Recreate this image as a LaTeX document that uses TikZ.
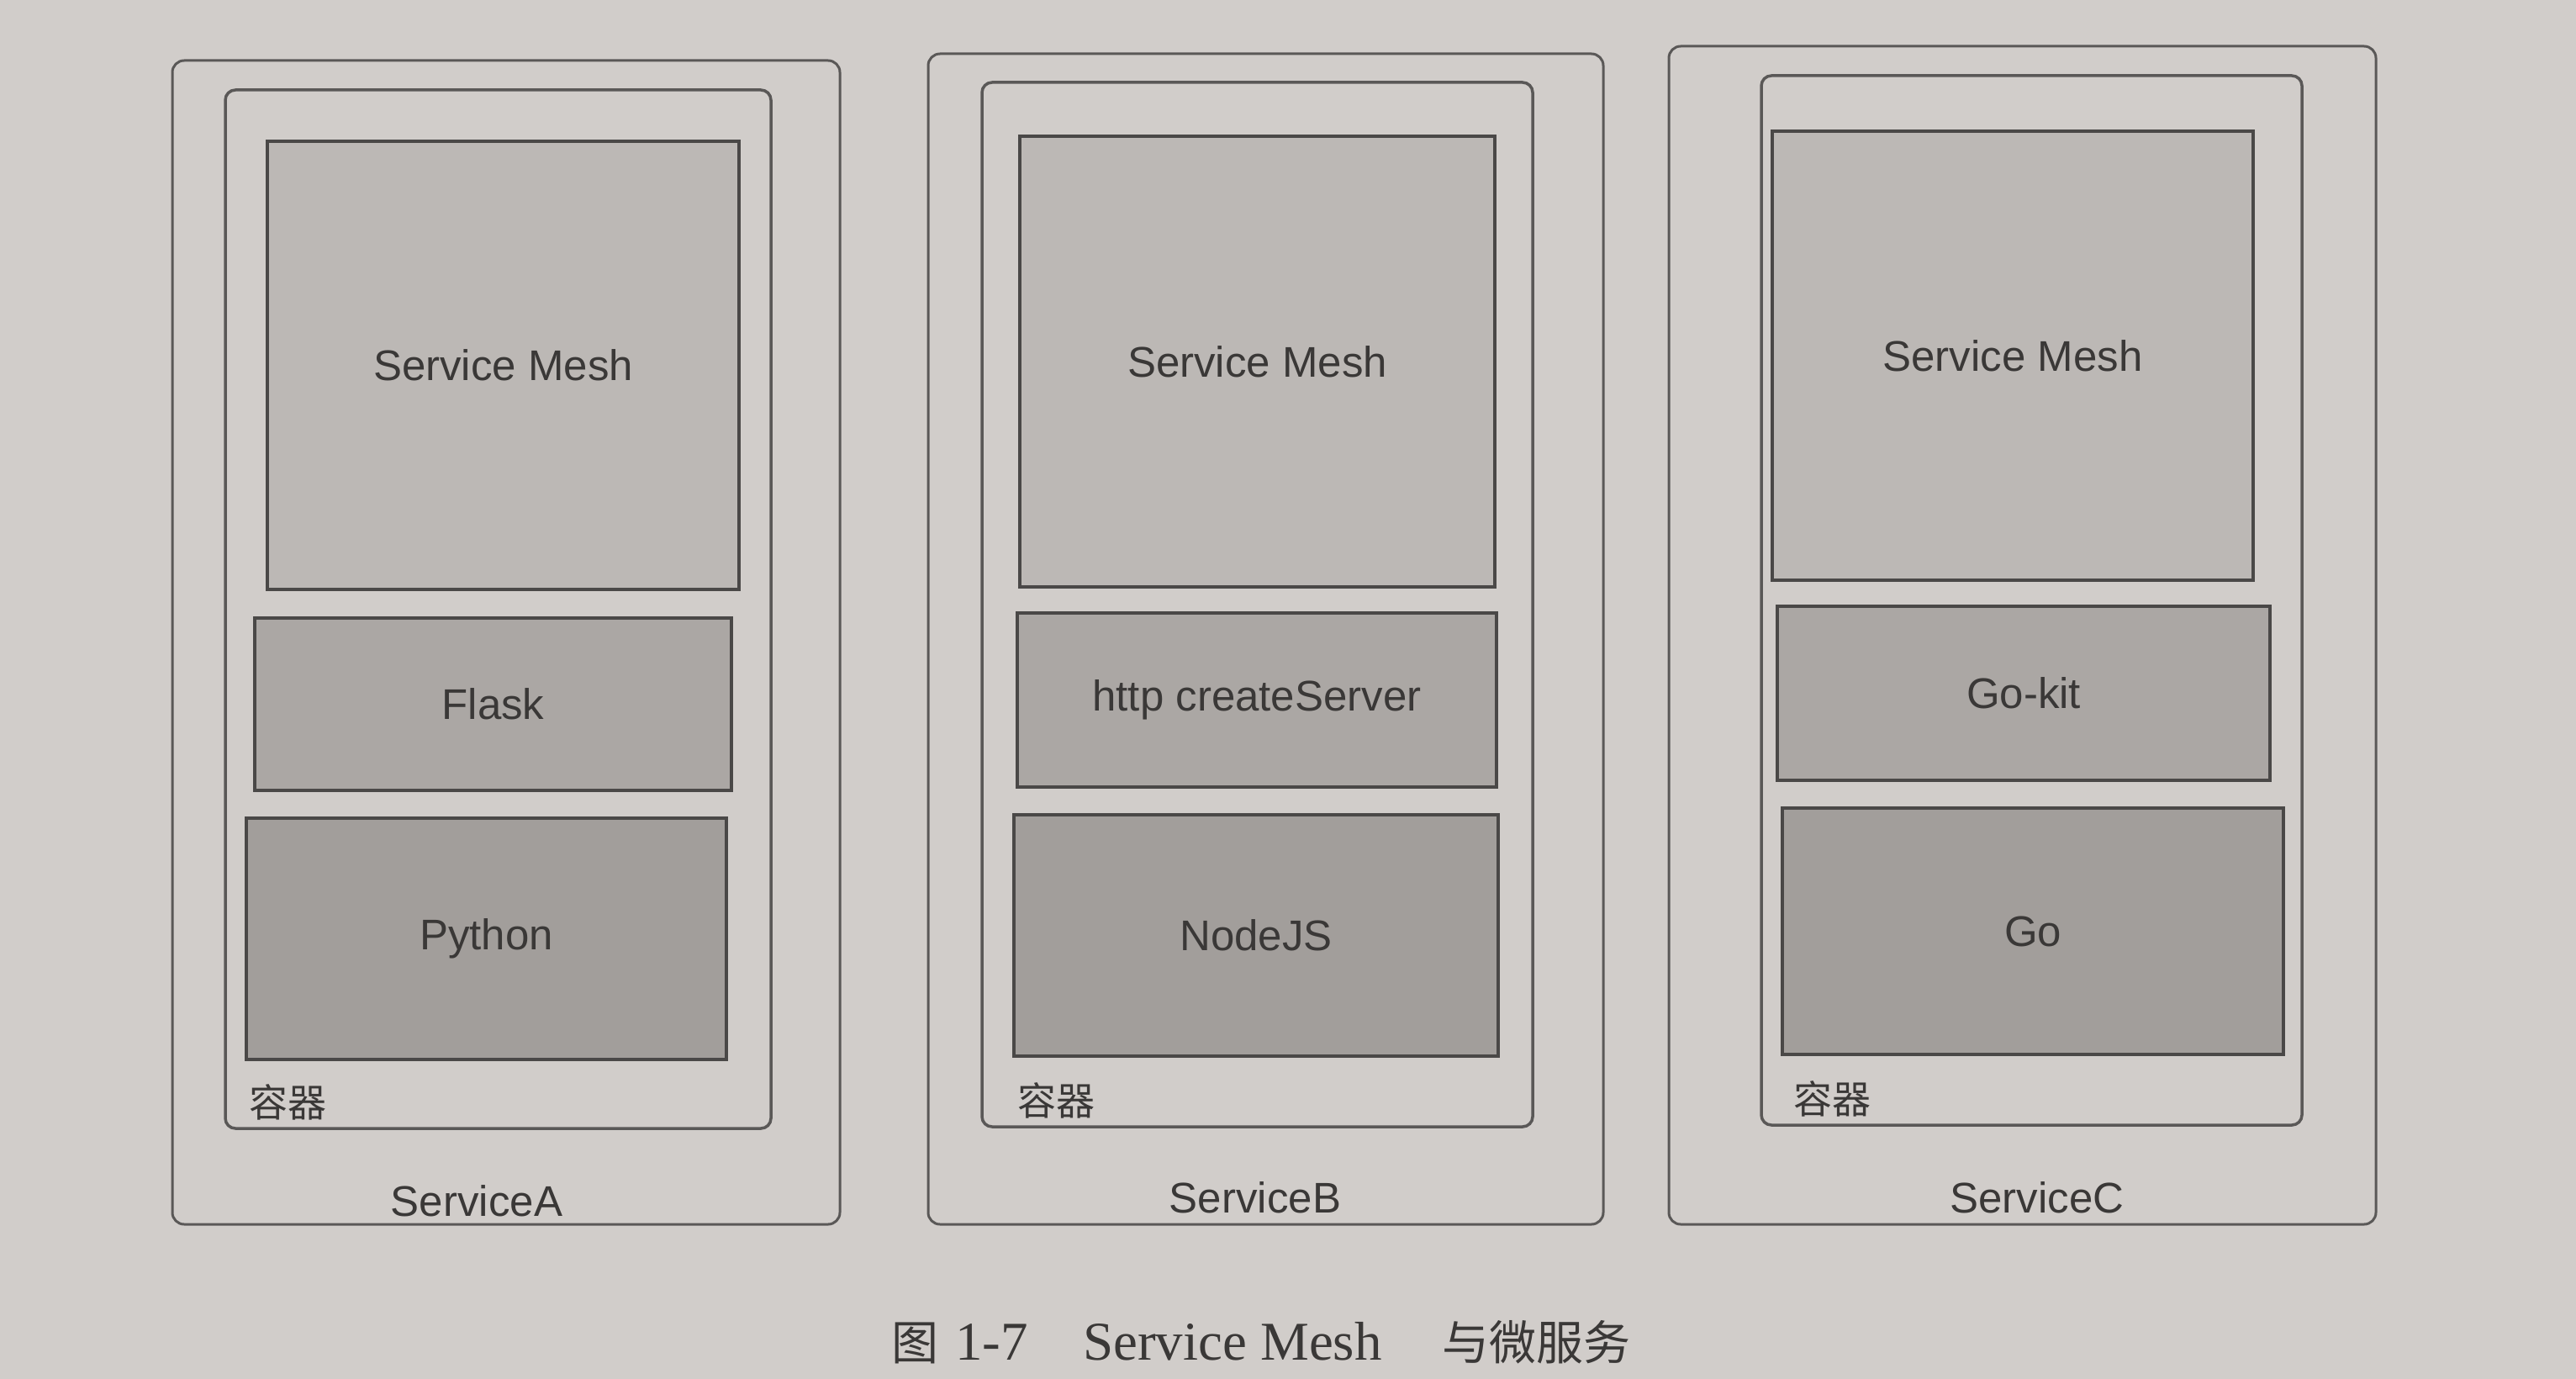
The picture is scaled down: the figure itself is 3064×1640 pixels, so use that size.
\documentclass[tikz,border=0pt]{standalone}
\usepackage{fontspec}
\setmainfont{Liberation Serif}
\setsansfont{Liberation Sans}
\newfontfamily\cjk{Noto Sans CJK SC}

\definecolor{paper}{HTML}{D1CDCA}
\definecolor{framegray}{HTML}{5A5857}
\definecolor{boxline}{HTML}{4A4847}
\definecolor{meshfill}{HTML}{BCB8B5}
\definecolor{midfill}{HTML}{ABA7A4}
\definecolor{basefill}{HTML}{A29E9B}
\definecolor{ink}{HTML}{3A3837}

\tikzset{
  service/.style={draw=framegray, line width=3pt, rounded corners=14pt, inner sep=0pt},
  container/.style={draw=framegray, line width=3.5pt, rounded corners=12pt, inner sep=0pt},
  layer/.style={draw=boxline, line width=4.5pt, inner sep=0pt, text=ink,
                font=\sffamily\fontsize{51}{60}\selectfont},
  mesh/.style={layer, fill=meshfill},
  framework/.style={layer, fill=midfill},
  runtime/.style={layer, fill=basefill},
  svclabel/.style={text=ink, inner sep=0pt, font=\sffamily\fontsize{51}{60}\selectfont},
  boxlabel/.style={text=ink, inner sep=0pt, font=\cjk\fontsize{46}{54}\selectfont},
}

\begin{document}
\begin{tikzpicture}[x=1pt, y=-1pt]
  \fill[paper] (0,0) rectangle (3064,1640);
  \useasboundingbox (0,0) rectangle (3064,1640);

  % ServiceA
  \node[service, minimum width=794, minimum height=1384] (svcA) at (602,764) {};
  \node[container, minimum width=649, minimum height=1235] (ctA) at (592.5,724.5) {};
  \node[mesh, minimum width=561, minimum height=533] (meshA) at (598.5,434.5) {Service Mesh};
  \node[framework, minimum width=567, minimum height=205] (fwA) at (586.5,837.5) {Flask};
  \node[runtime, minimum width=571, minimum height=287] (rtA) at (578.5,1116.5) {Python};
  \node[boxlabel] (ctlabA) at (342,1311) {容器};
  \node[svclabel] (svclabA) at (567,1428) {ServiceA};

  % ServiceB
  \node[service, minimum width=803, minimum height=1392] (svcB) at (1505.5,760) {};
  \node[container, minimum width=655, minimum height=1242] (ctB) at (1495.5,719) {};
  \node[mesh, minimum width=565, minimum height=536] (meshB) at (1495.5,430) {Service Mesh};
  \node[framework, minimum width=570, minimum height=207] (fwB) at (1495,832.5) {http createServer};
  \node[runtime, minimum width=576, minimum height=287] (rtB) at (1494,1112.5) {NodeJS};
  \node[boxlabel] (ctlabB) at (1256,1309) {容器};
  \node[svclabel] (svclabB) at (1493,1424) {ServiceB};

  % ServiceC
  \node[service, minimum width=841, minimum height=1401] (svcC) at (2405.5,755.5) {};
  \node[container, minimum width=643, minimum height=1248] (ctC) at (2416.5,714) {};
  \node[mesh, minimum width=572, minimum height=534] (meshC) at (2394,423) {Service Mesh};
  \node[framework, minimum width=586, minimum height=207] (fwC) at (2407,824.5) {Go-kit};
  \node[runtime, minimum width=596, minimum height=293] (rtC) at (2418,1107.5) {Go};
  \node[boxlabel] (ctlabC) at (2179,1307) {容器};
  \node[svclabel] (svclabC) at (2423,1424) {ServiceC};

  % figure caption
  \node[text=ink, inner sep=0pt, font=\fontsize{65}{75}\selectfont] (caption) at (1500,1596)
    {{\cjk\fontsize{56}{66}\selectfont 图}\hspace{0.3em}1-7\hspace{1.0em}Service Mesh\hspace{1.1em}{\cjk\fontsize{56}{66}\selectfont 与微服务}};
\end{tikzpicture}
\end{document}
